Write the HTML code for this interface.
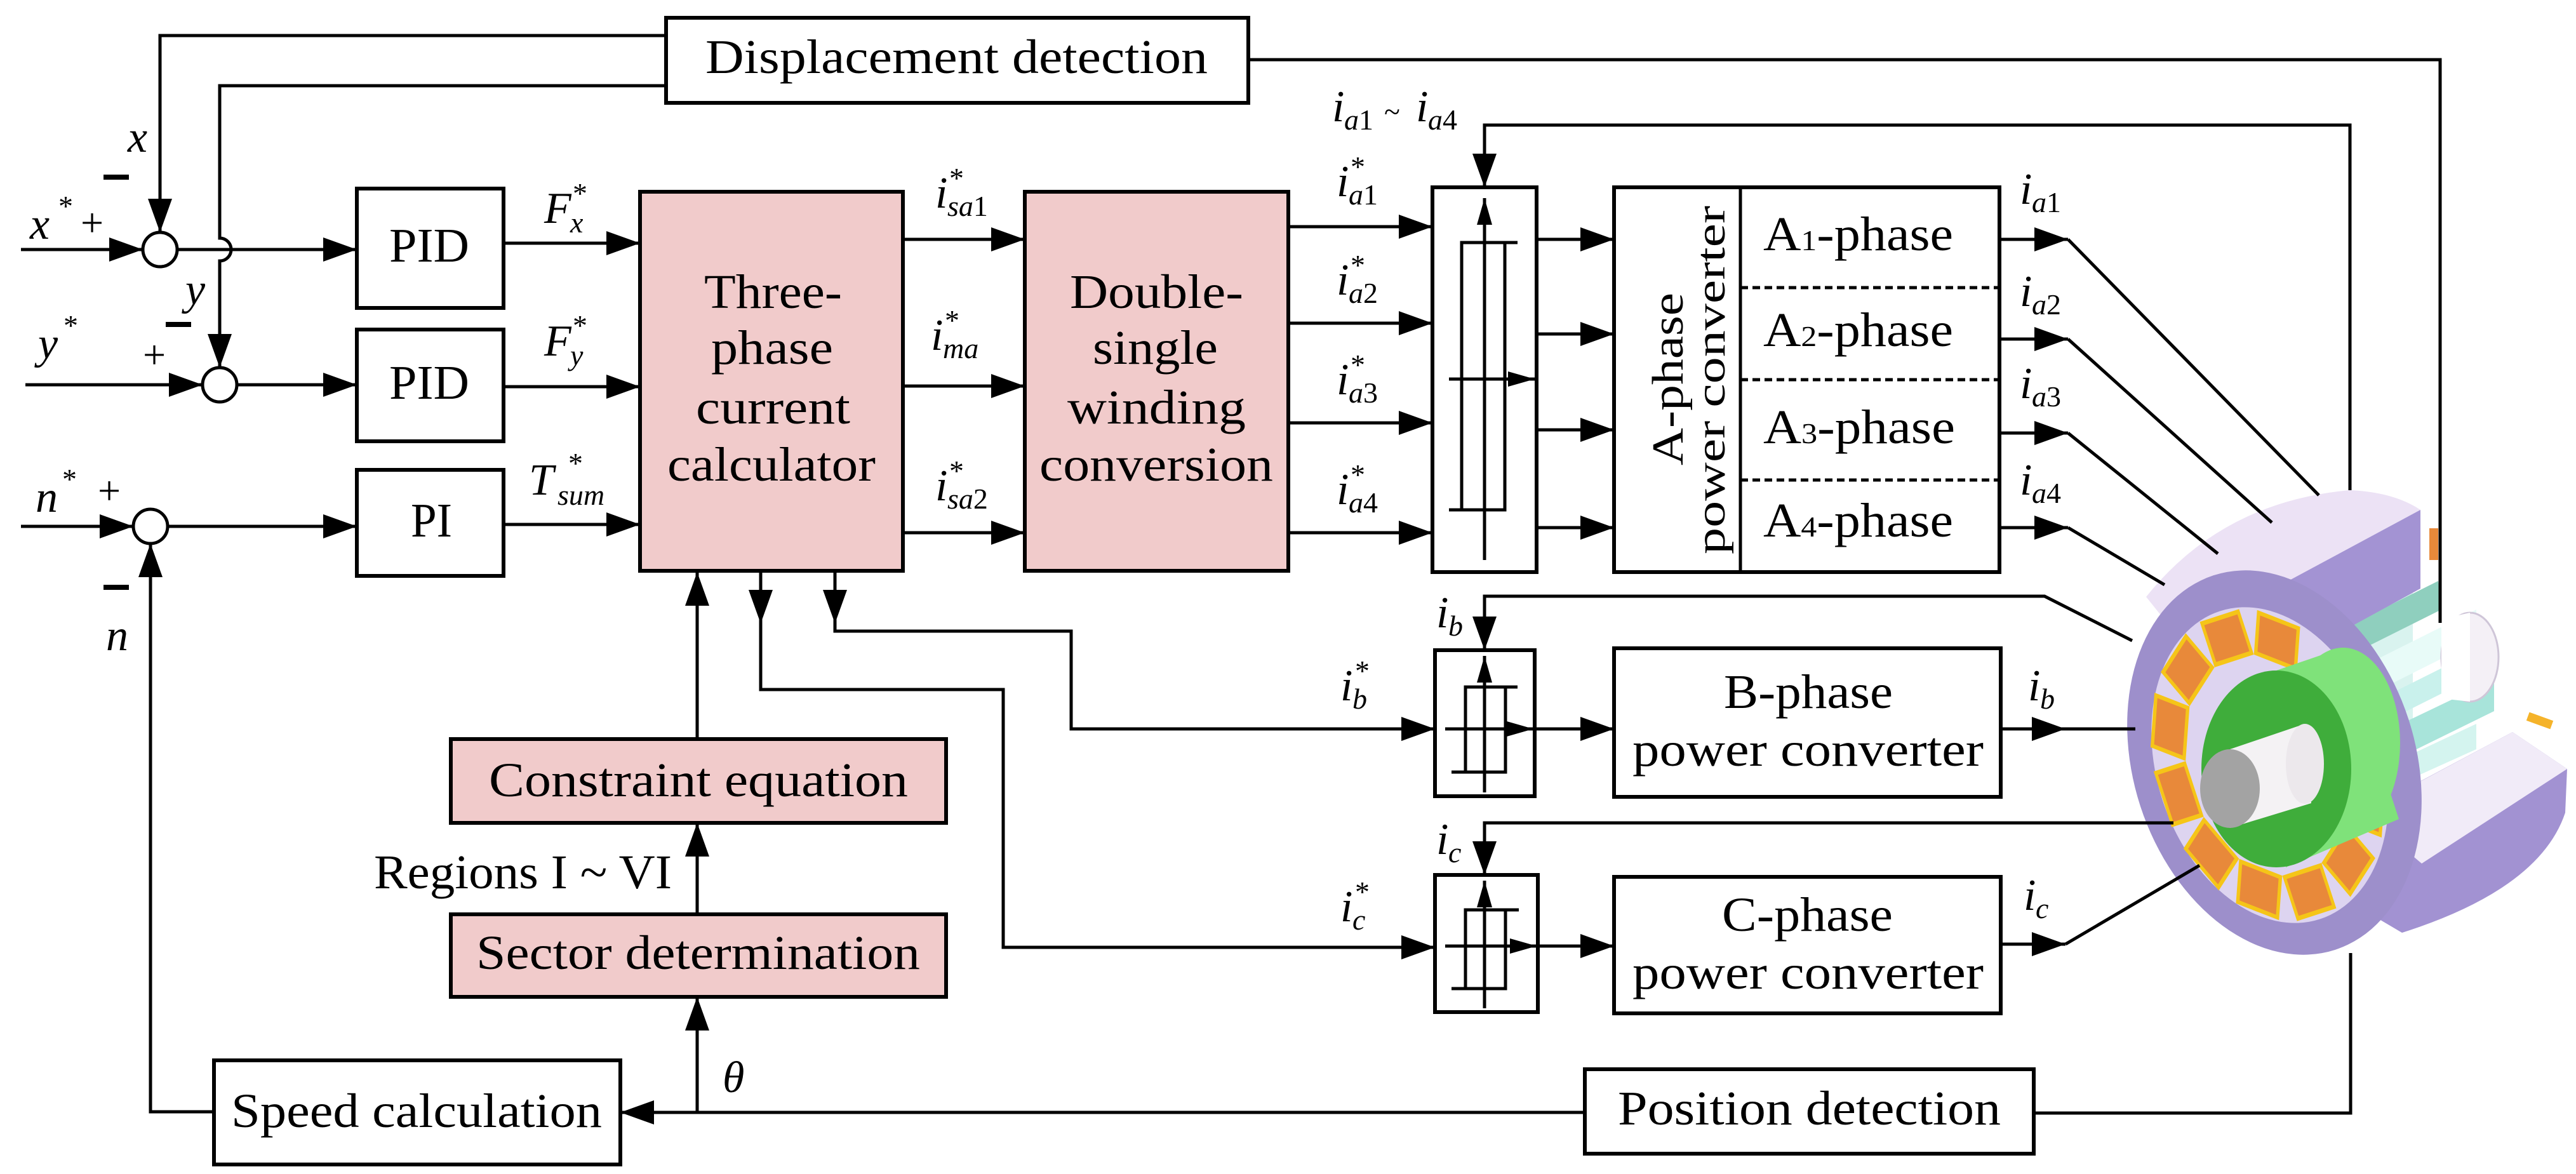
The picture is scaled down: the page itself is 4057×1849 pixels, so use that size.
<!DOCTYPE html>
<html><head><meta charset="utf-8">
<style>
html,body{margin:0;padding:0;background:#fff;}
svg{display:block;}
text{font-family:"Liberation Serif","DejaVu Serif",serif;fill:#000;}
.t{font-size:76px;}
.it{font-size:70px;font-style:italic;}
.sb{font-size:46px;font-style:italic;}
.sn{font-size:46px;font-style:normal;}
.st{font-size:46px;font-style:normal;}
</style></head>
<body>
<svg width="4057" height="1849" viewBox="0 0 4057 1849" xmlns="http://www.w3.org/2000/svg" font-family="Liberation Serif, DejaVu Serif, serif">
<defs>
<marker id="a" markerUnits="userSpaceOnUse" markerWidth="56" markerHeight="40" refX="53" refY="20" orient="auto"><path d="M0,1 L53,20 L0,39z" fill="#000"/></marker>
<marker id="s" markerUnits="userSpaceOnUse" markerWidth="44" markerHeight="26" refX="42" refY="13" orient="auto"><path d="M0,1 L42,13 L0,25z" fill="#000"/></marker>
</defs>
<rect width="4057" height="1849" fill="#fff"/>

<!-- ============ MOTOR ============ -->
<g>
<path d="M3700,1290 L3957,1153 L4043,1211 L4040,1280 Q4000,1400 3783,1469 L3700,1420z" fill="#a292d2"/>
<path d="M3720,1280 L3957,1153 L4043,1211 L3814,1360z" fill="#f1ebf8"/>
<path d="M3686,960 L3800,905 L3800,1180 L3686,1240z" fill="#d9f3ef"/>
<path d="M3700,985 L3840,915 L3845,960 L3705,1030z" fill="#8fcfbe"/>
<path d="M3720,1050 L3900,960 L3900,1010 L3720,1100z" fill="#e8fbf8"/>
<path d="M3730,1110 L3930,1010 L3930,1050 L3730,1150z" fill="#c9f1ec"/>
<path d="M3740,1160 L3928,1070 L3928,1120 L3745,1210z" fill="#a8e4da"/>
<path d="M3740,1215 L3900,1140 L3900,1180 L3745,1250z" fill="#d4f4ef"/>
<ellipse cx="3890" cy="1035" rx="45" ry="70" fill="#f4f0f6" stroke="#cfc6d8" stroke-width="3"/>
<path d="M3845,975 L3890,965 L3890,1105 L3845,1100z" fill="#ffffff"/>
<path d="M3380,940 Q3500,790 3701,772 Q3770,775 3812,803 L3587,924 L3420,990z" fill="#ece2f5"/>
<path d="M3587,924 L3812,803 L3812,927 L3587,1050z" fill="#a393d3"/>
<rect x="3826" y="832" width="14" height="50" fill="#e8893a"/>
<rect x="3980" y="1128" width="40" height="14" fill="#f5b32a" transform="rotate(20 4000 1135)"/>
<ellipse cx="3582" cy="1201" rx="222" ry="310" transform="rotate(-18 3582 1201)" fill="#9d8fcb"/>
<ellipse cx="3575" cy="1205" rx="178" ry="255" transform="rotate(-18 3575 1205)" fill="#ddd4f0"/>
<g transform="translate(3572,1205) rotate(-18) scale(1,1.42)">
<g fill="#e8893a" stroke="#f5c518" stroke-width="5">
<rect x="-30" y="-172" width="60" height="48" transform="rotate(0)"/>
<rect x="-30" y="-172" width="60" height="48" transform="rotate(30)"/>
<rect x="-30" y="-172" width="60" height="48" transform="rotate(-30)"/>
<rect x="-30" y="-172" width="60" height="48" transform="rotate(-60)"/>
<rect x="-30" y="-172" width="60" height="48" transform="rotate(-90)"/>
<rect x="-30" y="-172" width="60" height="48" transform="rotate(-120)"/>
<rect x="-30" y="-172" width="60" height="48" transform="rotate(-150)"/>
<rect x="-30" y="-172" width="60" height="48" transform="rotate(180)"/>
<rect x="-30" y="-172" width="60" height="48" transform="rotate(150)"/>
<rect x="-30" y="-172" width="60" height="48" transform="rotate(120)"/>
</g>
</g>
<path d="M3585,1056 L3690,1020 L3778,1290 L3600,1366z" fill="#7fe27a"/>
<ellipse cx="3690" cy="1170" rx="90" ry="150" fill="#7fe27a"/>
<ellipse cx="3585" cy="1211" rx="118" ry="155" fill="#3fad3b"/>
<path d="M3512,1180 L3630,1140 L3640,1265 L3512,1304z" fill="#f4f2f4"/>
<ellipse cx="3630" cy="1203" rx="30" ry="63" fill="#ece8ec"/>
<ellipse cx="3512" cy="1242" rx="47" ry="62" fill="#a3a3a3"/>
</g>

<!-- ============ BOXES ============ -->
<g fill="#fff" stroke="#000" stroke-width="6">
<rect x="1049" y="28" width="917" height="134"/>
<rect x="562" y="297" width="231" height="188"/>
<rect x="562" y="519" width="231" height="176"/>
<rect x="562" y="740" width="231" height="167"/>
<rect x="1008" y="302" width="414" height="597" fill="#f1cbcb"/>
<rect x="1614" y="302" width="415" height="597" fill="#f1cbcb"/>
<rect x="710" y="1164" width="780" height="132" fill="#f1cbcb"/>
<rect x="710" y="1440" width="780" height="130" fill="#f1cbcb"/>
<rect x="337" y="1670" width="640" height="164"/>
<rect x="2496" y="1684" width="707" height="133"/>
<rect x="2256" y="295" width="164" height="606"/>
<rect x="2542" y="295" width="607" height="606"/>
<rect x="2260" y="1024" width="157" height="230"/>
<rect x="2542" y="1021" width="609" height="234"/>
<rect x="2260" y="1378" width="162" height="216"/>
<rect x="2542" y="1381" width="609" height="215"/>
</g>
<line x1="2741" y1="295" x2="2741" y2="901" stroke="#000" stroke-width="5"/>
<g stroke="#000" stroke-width="5" stroke-dasharray="12,7">
<line x1="2741" y1="453" x2="3149" y2="453"/>
<line x1="2741" y1="598" x2="3149" y2="598"/>
<line x1="2741" y1="756" x2="3149" y2="756"/>
</g>

<g fill="#fff" stroke="#000" stroke-width="5">
<circle cx="252" cy="393" r="27"/>
<circle cx="346" cy="606" r="27"/>
<circle cx="237" cy="829" r="27"/>
</g>

<!-- ============ CONNECTORS ============ -->
<g stroke="#000" stroke-width="5" fill="none">
<path d="M1049,56 H252 V366" marker-end="url(#a)"/>
<path d="M1049,135 H346 V375 A18,18 0 0 1 346,411 V579" marker-end="url(#a)"/>
<path d="M1966,94 H3843 V981"/>
<line x1="33" y1="393" x2="225" y2="393" marker-end="url(#a)"/>
<line x1="279" y1="393" x2="562" y2="393" marker-end="url(#a)"/>
<line x1="40" y1="606" x2="319" y2="606" marker-end="url(#a)"/>
<line x1="373" y1="606" x2="562" y2="606" marker-end="url(#a)"/>
<line x1="33" y1="829" x2="210" y2="829" marker-end="url(#a)"/>
<line x1="264" y1="829" x2="562" y2="829" marker-end="url(#a)"/>
<path d="M337,1751 H237 V856" marker-end="url(#a)"/>
<line x1="793" y1="383" x2="1008" y2="383" marker-end="url(#a)"/>
<line x1="793" y1="609" x2="1008" y2="609" marker-end="url(#a)"/>
<line x1="793" y1="826" x2="1008" y2="826" marker-end="url(#a)"/>
<line x1="1422" y1="377" x2="1614" y2="377" marker-end="url(#a)"/>
<line x1="1422" y1="608" x2="1614" y2="608" marker-end="url(#a)"/>
<line x1="1422" y1="839" x2="1614" y2="839" marker-end="url(#a)"/>
<line x1="2029" y1="357" x2="2256" y2="357" marker-end="url(#a)"/>
<line x1="2029" y1="509" x2="2256" y2="509" marker-end="url(#a)"/>
<line x1="2029" y1="666" x2="2256" y2="666" marker-end="url(#a)"/>
<line x1="2029" y1="839" x2="2256" y2="839" marker-end="url(#a)"/>
<line x1="2420" y1="377" x2="2542" y2="377" marker-end="url(#a)"/>
<line x1="2420" y1="526" x2="2542" y2="526" marker-end="url(#a)"/>
<line x1="2420" y1="677" x2="2542" y2="677" marker-end="url(#a)"/>
<line x1="2420" y1="831" x2="2542" y2="831" marker-end="url(#a)"/>
<line x1="3149" y1="377" x2="3257" y2="377" marker-end="url(#a)"/>
<line x1="3149" y1="534" x2="3257" y2="534" marker-end="url(#a)"/>
<line x1="3149" y1="682" x2="3257" y2="682" marker-end="url(#a)"/>
<line x1="3149" y1="831" x2="3257" y2="831" marker-end="url(#a)"/>
<line x1="3257" y1="377" x2="3652" y2="780"/>
<line x1="3257" y1="534" x2="3578" y2="823"/>
<line x1="3257" y1="682" x2="3493" y2="872"/>
<line x1="3257" y1="831" x2="3409" y2="921"/>
<path d="M3701,772 V197 H2338 V295" marker-end="url(#a)"/>
<line x1="1198" y1="899" x2="1198" y2="982" marker-end="url(#a)"/>
<line x1="1315" y1="899" x2="1315" y2="982" marker-end="url(#a)"/>
<path d="M1315,982 V994 H1687 V1148 H2260" marker-end="url(#a)"/>
<path d="M1198,982 V1086 H1580 V1492 H2260" marker-end="url(#a)"/>
<line x1="2417" y1="1148" x2="2542" y2="1148" marker-end="url(#a)"/>
<line x1="2422" y1="1490" x2="2542" y2="1490" marker-end="url(#a)"/>
<line x1="3151" y1="1148" x2="3253" y2="1148" marker-end="url(#a)"/>
<line x1="3253" y1="1148" x2="3363" y2="1148"/>
<line x1="3151" y1="1487" x2="3253" y2="1487" marker-end="url(#a)"/>
<line x1="3253" y1="1487" x2="3464" y2="1363"/>
<path d="M3358,1009 L3220,939 H2338 V1024" marker-end="url(#a)"/>
<path d="M3423,1296 H2338 V1378" marker-end="url(#a)"/>
<line x1="1098" y1="1164" x2="1098" y2="901" marker-end="url(#a)"/>
<line x1="1098" y1="1440" x2="1098" y2="1296" marker-end="url(#a)"/>
<line x1="1098" y1="1752" x2="1098" y2="1570" marker-end="url(#a)"/>
<line x1="2496" y1="1752" x2="977" y2="1752" marker-end="url(#a)"/>
<path d="M3203,1753 H3702 V1501"/>
</g>

<g stroke="#000" stroke-width="5" fill="none">
<line x1="2338" y1="882" x2="2338" y2="312" marker-end="url(#s)"/>
<path d="M2390,382 H2302 V803 M2370,382 V803 H2282"/>
<line x1="2282" y1="597" x2="2417" y2="597" marker-end="url(#s)"/>
<line x1="2338" y1="1248" x2="2338" y2="1033" marker-end="url(#s)"/>
<path d="M2390,1082 H2308 V1216 M2371,1082 V1216 H2286"/>
<line x1="2276" y1="1148" x2="2415" y2="1148" marker-end="url(#s)"/>
<line x1="2338" y1="1588" x2="2338" y2="1387" marker-end="url(#s)"/>
<path d="M2392,1433 H2308 V1557 M2371,1433 V1557 H2286"/>
<line x1="2276" y1="1490" x2="2420" y2="1490" marker-end="url(#s)"/>
</g>

<g fill="#000">
<rect x="163" y="275" width="40" height="8"/>
<rect x="261" y="507" width="40" height="8"/>
<rect x="163" y="921" width="40" height="8"/>
</g>

<!-- ============ TEXT ============ -->
<g class="t">
<text x="1111" y="115" textLength="791" lengthAdjust="spacingAndGlyphs">Displacement detection</text>
<text x="613" y="412" textLength="126" lengthAdjust="spacingAndGlyphs">PID</text>
<text x="613" y="628" textLength="126" lengthAdjust="spacingAndGlyphs">PID</text>
<text x="647" y="845" textLength="65" lengthAdjust="spacingAndGlyphs">PI</text>
<text x="1109" y="485" textLength="217" lengthAdjust="spacingAndGlyphs">Three-</text>
<text x="1120" y="573" textLength="192" lengthAdjust="spacingAndGlyphs">phase</text>
<text x="1096" y="667" textLength="243" lengthAdjust="spacingAndGlyphs">current</text>
<text x="1051" y="757" textLength="328" lengthAdjust="spacingAndGlyphs">calculator</text>
<text x="1685" y="485" textLength="273" lengthAdjust="spacingAndGlyphs">Double-</text>
<text x="1721" y="573" textLength="197" lengthAdjust="spacingAndGlyphs">single</text>
<text x="1681" y="667" textLength="281" lengthAdjust="spacingAndGlyphs">winding</text>
<text x="1637" y="757" textLength="368" lengthAdjust="spacingAndGlyphs">conversion</text>
<text x="770" y="1254" textLength="660" lengthAdjust="spacingAndGlyphs">Constraint equation</text>
<text x="750" y="1526" textLength="699" lengthAdjust="spacingAndGlyphs">Sector determination</text>
<text x="589" y="1399" textLength="469" lengthAdjust="spacingAndGlyphs">Regions I ~ VI</text>
<text x="364" y="1775" textLength="584" lengthAdjust="spacingAndGlyphs">Speed calculation</text>
<text x="2548" y="1771" textLength="603" lengthAdjust="spacingAndGlyphs">Position detection</text>
<text x="2715" y="1115" textLength="266" lengthAdjust="spacingAndGlyphs">B-phase</text>
<text x="2571" y="1206" textLength="553" lengthAdjust="spacingAndGlyphs">power converter</text>
<text x="2712" y="1466" textLength="269" lengthAdjust="spacingAndGlyphs">C-phase</text>
<text x="2571" y="1557" textLength="553" lengthAdjust="spacingAndGlyphs">power converter</text>
<text x="2777" y="394" textLength="299" lengthAdjust="spacingAndGlyphs">A<tspan font-size="46">1</tspan>-phase</text>
<text x="2777" y="545" textLength="299" lengthAdjust="spacingAndGlyphs">A<tspan font-size="46">2</tspan>-phase</text>
<text x="2777" y="698" textLength="302" lengthAdjust="spacingAndGlyphs">A<tspan font-size="46">3</tspan>-phase</text>
<text x="2777" y="845" textLength="299" lengthAdjust="spacingAndGlyphs">A<tspan font-size="46">4</tspan>-phase</text>
<text transform="translate(2650,733) rotate(-90)" font-size="70" textLength="272" lengthAdjust="spacingAndGlyphs">A-phase</text>
<text transform="translate(2716,873) rotate(-90)" font-size="66" textLength="549" lengthAdjust="spacingAndGlyphs">power converter</text>
<text x="127" y="372" font-size="64">+</text>
<text x="225" y="580" font-size="64">+</text>
<text x="154" y="794" font-size="64">+</text>
</g>

<g class="it">
<text x="201" y="239">x</text>
<text x="292" y="479">y</text>
<text x="47" y="376">x</text><text x="92" y="340" class="st">*</text>
<text x="60" y="564">y</text><text x="100" y="528" class="st">*</text>
<text x="56" y="806">n</text><text x="98" y="770" class="st">*</text>
<text x="167" y="1024">n</text>
<text x="1138" y="1720">θ</text>
<text x="857" y="351">F</text><text x="898" y="366" class="sb">x</text><text x="902" y="320" class="st">*</text>
<text x="857" y="560">F</text><text x="898" y="575" class="sb">y</text><text x="902" y="528" class="st">*</text>
<text x="833" y="779">T</text><text x="878" y="795" class="sb">sum</text><text x="895" y="745" class="st">*</text>
<text x="1473" y="327">i</text><text x="1492" y="340" class="sb">sa<tspan class="sn">1</tspan></text><text x="1495" y="296" class="st">*</text>
<text x="1466" y="551">i</text><text x="1485" y="564" class="sb">ma</text><text x="1488" y="520" class="st">*</text>
<text x="1473" y="788">i</text><text x="1492" y="801" class="sb">sa<tspan class="sn">2</tspan></text><text x="1495" y="757" class="st">*</text>
<text x="2105" y="309">i</text><text x="2124" y="322" class="sb">a<tspan class="sn">1</tspan></text><text x="2127" y="278" class="st">*</text>
<text x="2105" y="464">i</text><text x="2124" y="477" class="sb">a<tspan class="sn">2</tspan></text><text x="2127" y="433" class="st">*</text>
<text x="2105" y="621">i</text><text x="2124" y="634" class="sb">a<tspan class="sn">3</tspan></text><text x="2127" y="590" class="st">*</text>
<text x="2105" y="794">i</text><text x="2124" y="807" class="sb">a<tspan class="sn">4</tspan></text><text x="2127" y="763" class="st">*</text>
<text x="2098" y="191">i</text><text x="2117" y="204" class="sb">a<tspan class="sn">1</tspan></text><text x="2180" y="191" class="sn" font-size="56">~</text>
<text x="2230" y="191">i</text><text x="2249" y="204" class="sb">a<tspan class="sn">4</tspan></text>
<text x="3181" y="321">i</text><text x="3200" y="334" class="sb">a<tspan class="sn">1</tspan></text>
<text x="3181" y="482">i</text><text x="3200" y="495" class="sb">a<tspan class="sn">2</tspan></text>
<text x="3181" y="627">i</text><text x="3200" y="640" class="sb">a<tspan class="sn">3</tspan></text>
<text x="3181" y="779">i</text><text x="3200" y="792" class="sb">a<tspan class="sn">4</tspan></text>
<text x="2262" y="988">i</text><text x="2281" y="1001" class="sb">b</text>
<text x="2111" y="1103">i</text><text x="2130" y="1116" class="sb">b</text><text x="2134" y="1072" class="st">*</text>
<text x="3194" y="1103">i</text><text x="3213" y="1116" class="sb">b</text>
<text x="2262" y="1345">i</text><text x="2281" y="1358" class="sb">c</text>
<text x="2111" y="1451">i</text><text x="2130" y="1464" class="sb">c</text><text x="2134" y="1420" class="st">*</text>
<text x="3187" y="1433">i</text><text x="3206" y="1446" class="sb">c</text>
</g>
</svg>
</body></html>
